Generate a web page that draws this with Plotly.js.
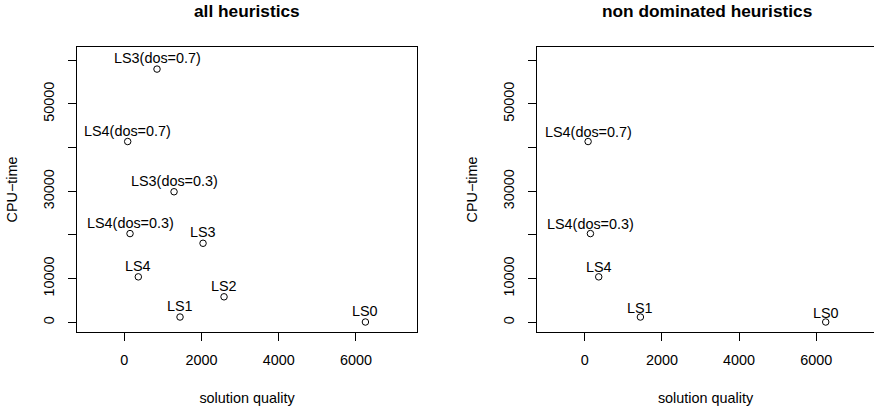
<!DOCTYPE html>
<html><head><meta charset="utf-8">
<script src="https://cdn.plot.ly/plotly-3.0.1.min.js"></script>
<style>html,body{margin:0;padding:0;background:#fff}</style>
</head><body>
<div id="chart" style="width:874px;height:408px"></div>
<script>
// all heuristics
const allNames   = ["LS0","LS1","LS2","LS3","LS4","LS3(dos=0.3)","LS4(dos=0.3)","LS3(dos=0.7)","LS4(dos=0.7)"];
const allQuality = [6244, 1443, 2583, 2039, 363, 1288, 148, 847, 88];
const allCpu     = [70, 1210, 5840, 18100, 10410, 29900, 20320, 57990, 41400];
// non dominated heuristics
const ndNames   = ["LS0","LS1","LS4","LS4(dos=0.3)","LS4(dos=0.7)"];
const ndQuality = [6244, 1443, 363, 148, 88];
const ndCpu     = [70, 1210, 10410, 20320, 41400];
// ticks
const xTickVals = [0, 2000, 4000, 6000];
const yTickVals = [0, 10000, 20000, 30000, 40000, 50000, 60000];
const yTickText = ["0", "10000", "", "30000", "", "50000", ""];

const FONT = '"Liberation Sans", Arial, Helvetica, sans-serif';
const FS = 14.4;

const marker = {symbol:'circle-open', size:6.5, color:'#000', line:{color:'#000', width:1}};
const traces = [
  {x:allQuality, y:allCpu, type:'scatter', mode:'markers', marker:marker, xaxis:'x', yaxis:'y', hoverinfo:'skip'},
  {x:ndQuality, y:ndCpu, type:'scatter', mode:'markers', marker:marker, xaxis:'x2', yaxis:'y2', hoverinfo:'skip'}
];

const annotations = [];
allNames.forEach((n,i)=>annotations.push({x:allQuality[i], y:allCpu[i], xref:'x', yref:'y', text:n, showarrow:false,
  xanchor:'center', yanchor:'middle', yshift:11, font:{family:FONT,size:FS,color:'#000'}}));
ndNames.forEach((n,i)=>annotations.push({x:ndQuality[i], y:ndCpu[i], xref:'x2', yref:'y2', text:n, showarrow:false,
  xanchor:'center', yanchor:'middle', yshift:9.5, font:{family:FONT,size:FS,color:'#000'}}));

const plotH = 408-47-76;
const titleY = 1 + 36/plotH;
annotations.push({xref:'paper', yref:'paper', x:247/874, y:titleY, text:'<b>all heuristics</b>', showarrow:false,
  xanchor:'center', yanchor:'middle', font:{family:FONT,size:17.3,color:'#000'}});
annotations.push({xref:'paper', yref:'paper', x:707/874, y:titleY, text:'<b>non dominated heuristics</b>', showarrow:false,
  xanchor:'center', yanchor:'middle', font:{family:FONT,size:17.3,color:'#000'}});

function xax(domain, range, anchor, mirror){
  return {domain:domain, range:range, anchor:anchor, tickmode:'array', tickvals:xTickVals,
    ticks:'outside', ticklen:8, tickwidth:1, tickcolor:'#000', ticklabelstandoff:7,
    showline:true, mirror:mirror, linecolor:'#000', linewidth:1,
    showgrid:false, zeroline:false, automargin:false, tickfont:{family:FONT,size:FS,color:'#000'},
    title:{text:'solution quality', standoff:25, font:{family:FONT,size:FS,color:'#000'}}};
}
function yax(anchor, mirror){
  return {domain:[0,1], range:[-2220, 63050], anchor:anchor, tickmode:'array', tickvals:yTickVals, ticktext:yTickText,
    tickangle:-90, ticks:'outside', ticklen:8, tickwidth:1, tickcolor:'#000', ticklabelstandoff:8,
    showline:true, mirror:mirror, linecolor:'#000', linewidth:1,
    showgrid:false, zeroline:false, automargin:false, tickfont:{family:FONT,size:FS,color:'#000'},
    title:{text:'CPU\u2212time', standoff:20, font:{family:FONT,size:FS,color:'#000'}}};
}

const layout = {
  width:874, height:408,
  margin:{l:0, r:0, t:47, b:76, pad:0},
  paper_bgcolor:'#fff', plot_bgcolor:'#fff', showlegend:false,
  font:{family:FONT, size:FS, color:'#000'},
  xaxis: xax([77/874, 417/874], [-1225, 7580], 'y', true),
  yaxis: yax('x', true),
  xaxis2: xax([537/874, 1], [-1236, 7495], 'y2', true),
  yaxis2: yax('x2', false),
  annotations: annotations
};
Plotly.newPlot('chart', traces, layout, {staticPlot:true, displayModeBar:false});
</script>
</body></html>
